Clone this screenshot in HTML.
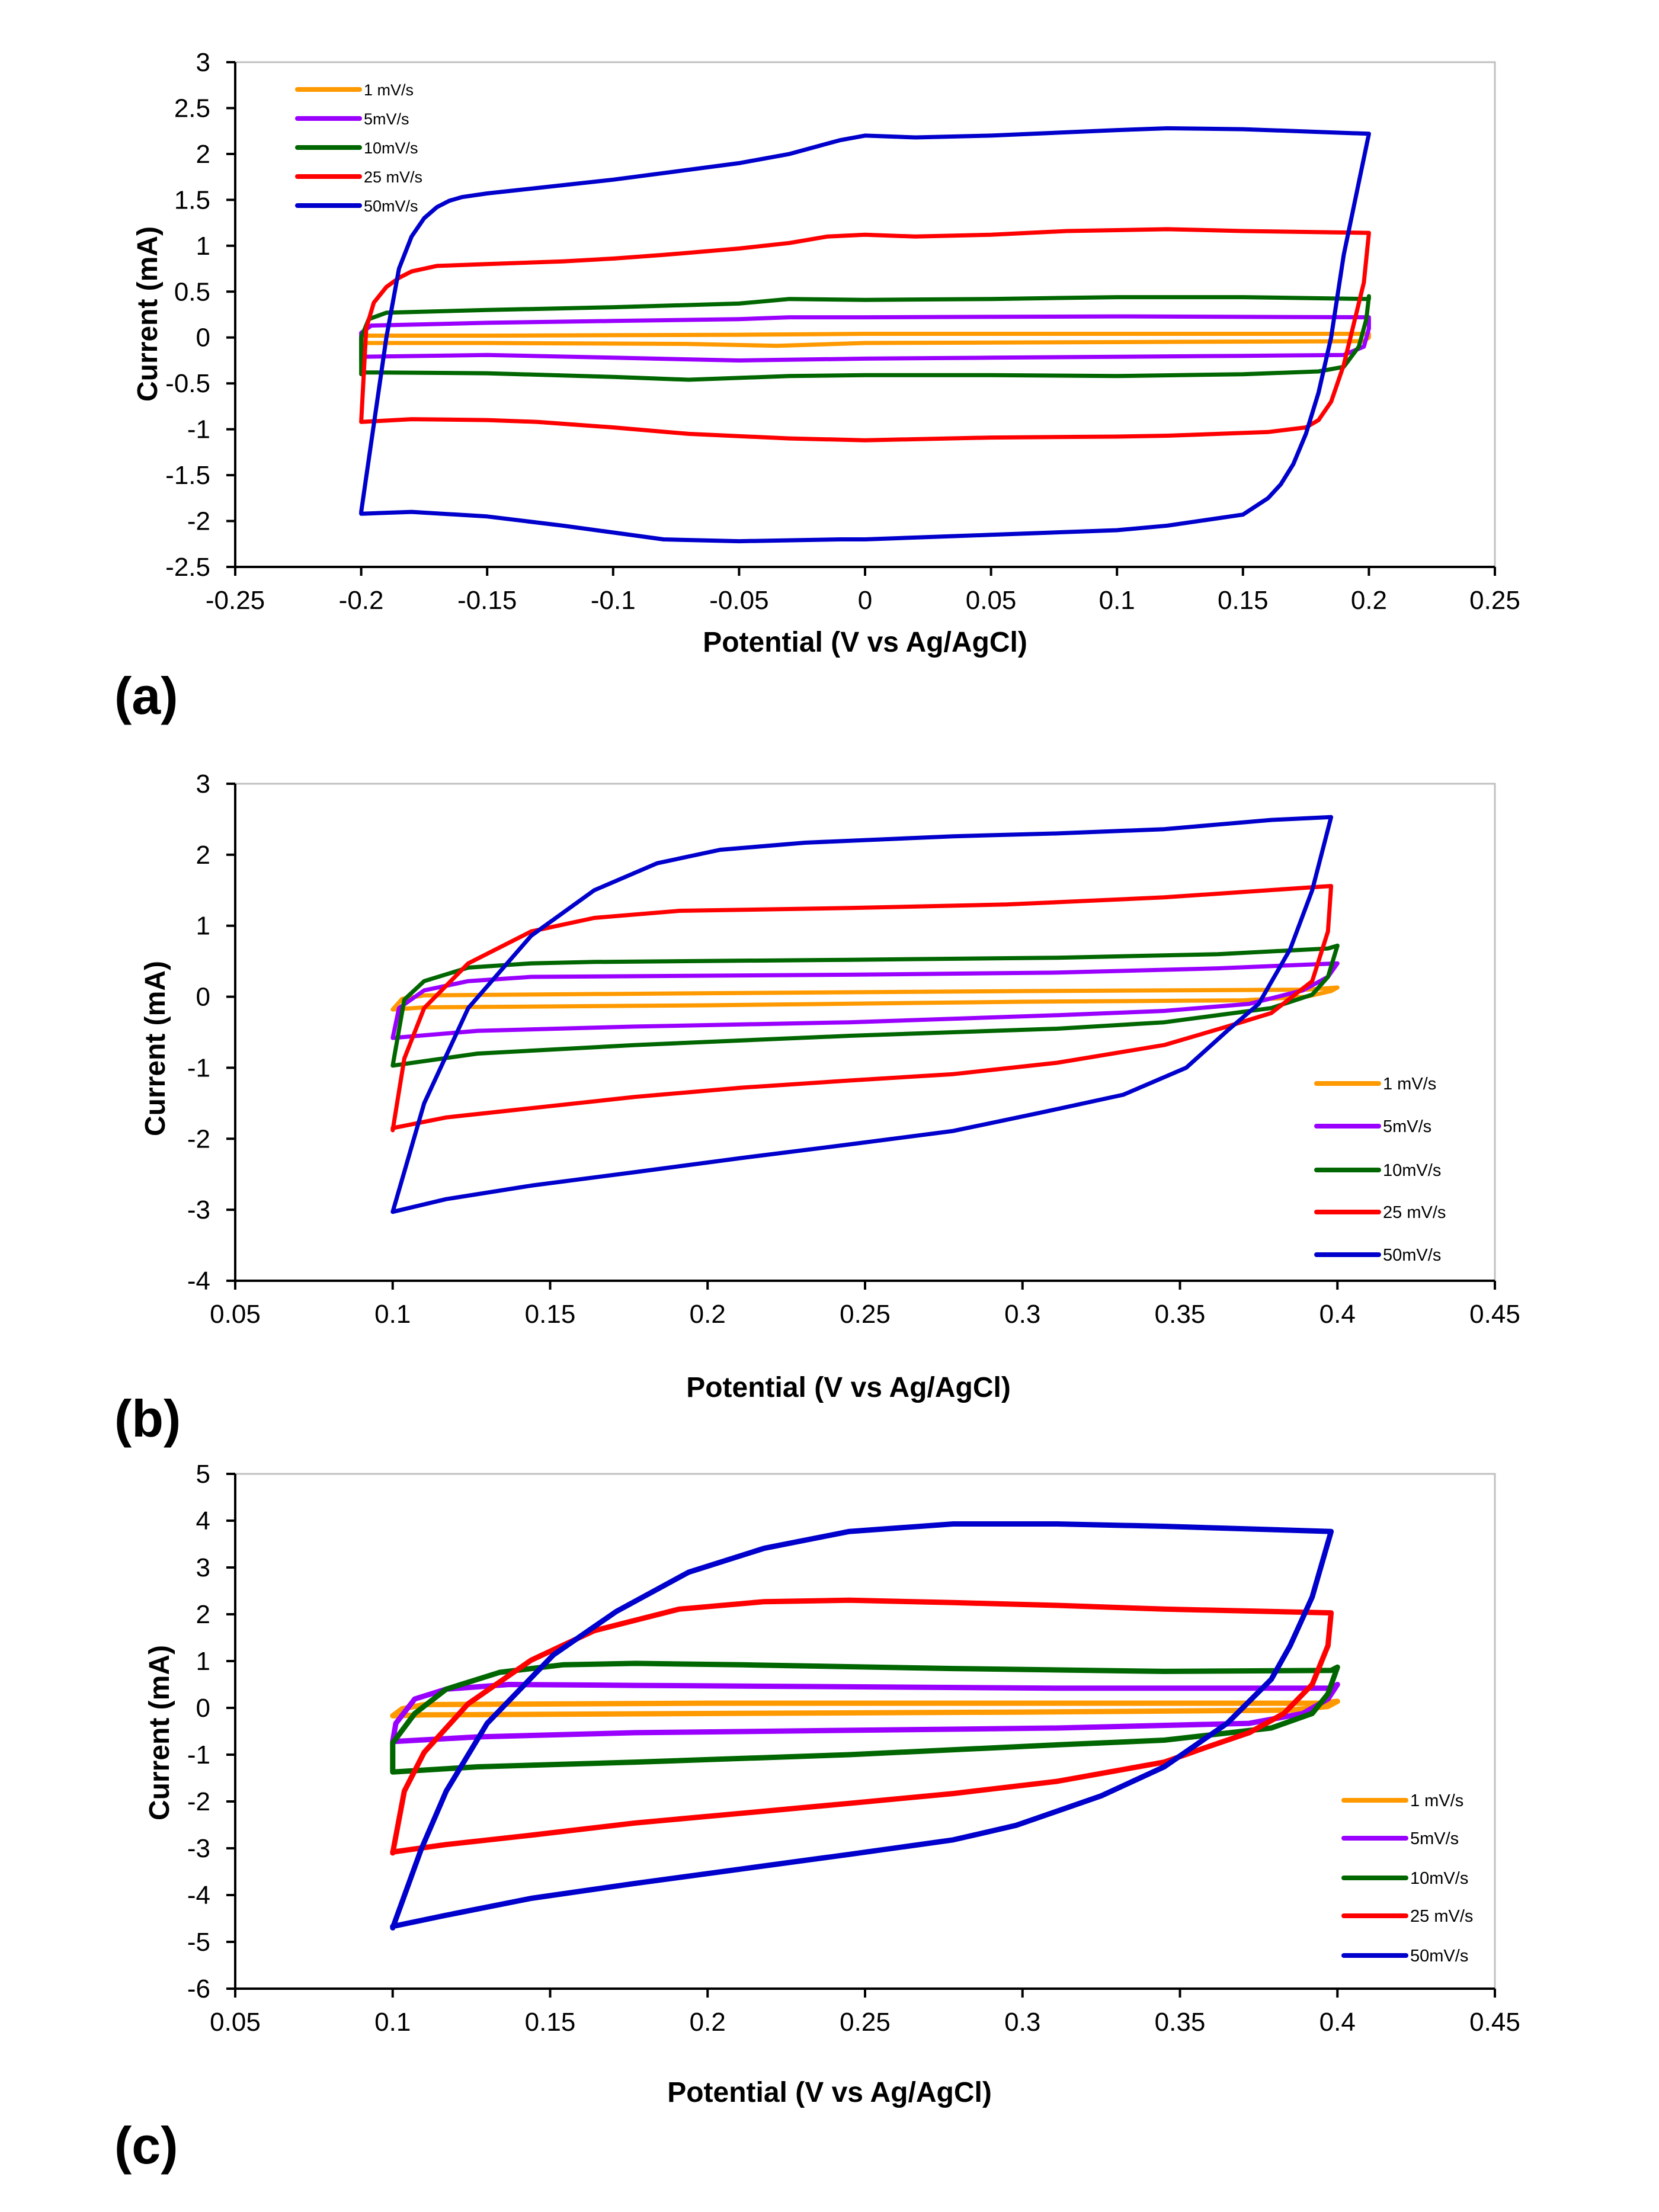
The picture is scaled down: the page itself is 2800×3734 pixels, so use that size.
<!DOCTYPE html>
<html><head><meta charset="utf-8"><style>
html,body{margin:0;padding:0;background:#fff;}
svg{display:block;}
text{font-family:"Liberation Sans",Arial,sans-serif;}
</style></head><body>
<svg id="fig" width="2800" height="3734" viewBox="0 0 2800 3734" xmlns="http://www.w3.org/2000/svg">
<rect width="2800" height="3734" fill="#fff"/>
</svg>
<script>
// ---- Panel (a) data ----
const aX1=[-0.2,-0.198,-0.15,-0.05,0,0.1,0.2,0.2,0.198,0.1,0,-0.035,-0.07,-0.15,-0.2,-0.2];
const aY1=[-0.04,0.02,0.02,0.03,0.04,0.04,0.04,0.0,-0.04,-0.05,-0.06,-0.09,-0.07,-0.06,-0.06,-0.04];
const aX5=[-0.2,-0.2,-0.196,-0.15,-0.1,-0.05,-0.03,0,0.1,0.2,0.2,0.198,0.19,0.15,0.05,0,-0.05,-0.1,-0.15,-0.2,-0.2];
const aY5=[-0.25,0.05,0.13,0.16,0.18,0.2,0.22,0.22,0.23,0.22,0.1,-0.1,-0.19,-0.2,-0.22,-0.23,-0.25,-0.22,-0.19,-0.21,-0.25];
const aX10=[-0.2,-0.2,-0.197,-0.19,-0.15,-0.1,-0.05,-0.03,0,0.05,0.1,0.15,0.2,0.2,0.199,0.196,0.19,0.18,0.15,0.1,0.05,0,-0.03,-0.07,-0.1,-0.15,-0.2,-0.2];
const aY10=[-0.4,0.0,0.2,0.27,0.3,0.33,0.37,0.42,0.41,0.42,0.44,0.44,0.42,0.45,0.2,-0.1,-0.32,-0.37,-0.4,-0.42,-0.41,-0.41,-0.42,-0.46,-0.43,-0.39,-0.38,-0.4];
const aX25=[-0.2,-0.198,-0.195,-0.19,-0.185,-0.18,-0.17,-0.15,-0.12,-0.1,-0.08,-0.05,-0.03,-0.015,0,0.02,0.05,0.08,0.12,0.15,0.2,0.2,0.198,0.19,0.185,0.18,0.175,0.16,0.12,0.1,0.05,0,-0.03,-0.07,-0.1,-0.13,-0.15,-0.18,-0.2];
const aY25=[-0.92,0.1,0.38,0.55,0.65,0.72,0.78,0.8,0.83,0.86,0.9,0.97,1.03,1.1,1.12,1.1,1.12,1.16,1.18,1.16,1.14,1.14,0.6,-0.3,-0.7,-0.9,-0.98,-1.03,-1.07,-1.08,-1.09,-1.12,-1.1,-1.05,-0.98,-0.92,-0.9,-0.89,-0.92];
const aX50=[-0.2,-0.19,-0.185,-0.18,-0.175,-0.17,-0.165,-0.16,-0.15,-0.1,-0.05,-0.03,-0.01,0,0.02,0.05,0.1,0.12,0.15,0.18,0.2,0.2,0.19,0.185,0.18,0.175,0.17,0.165,0.16,0.15,0.12,0.1,0.05,0,-0.01,-0.05,-0.08,-0.12,-0.15,-0.18,-0.2];
const aY50=[-1.9,0.0,0.75,1.1,1.3,1.42,1.49,1.53,1.57,1.72,1.9,2.0,2.15,2.2,2.18,2.2,2.26,2.28,2.27,2.24,2.22,2.22,0.9,0.0,-0.6,-1.05,-1.38,-1.6,-1.75,-1.93,-2.05,-2.1,-2.15,-2.2,-2.2,-2.22,-2.2,-2.05,-1.95,-1.9,-1.92];
const aXTicks=["-0.25","-0.2","-0.15","-0.1","-0.05","0","0.05","0.1","0.15","0.2","0.25"];
const aYTicks=["-2.5","-2","-1.5","-1","-0.5","0","0.5","1","1.5","2","2.5","3"];

// ---- Panel (b) data ----
const bX1=[0.1,0.103,0.11,0.2,0.3,0.39,0.4,0.398,0.39,0.37,0.3,0.2,0.11,0.1];
const bY1=[-0.18,-0.03,0.02,0.05,0.08,0.1,0.13,0.08,0.0,-0.05,-0.07,-0.12,-0.15,-0.18];
const bX5=[0.1,0.102,0.11,0.124,0.144,0.245,0.311,0.362,0.4,0.397,0.389,0.372,0.345,0.311,0.245,0.177,0.127,0.1];
const bY5=[-0.58,-0.16,0.09,0.22,0.28,0.31,0.34,0.4,0.47,0.28,0.09,-0.1,-0.2,-0.26,-0.36,-0.42,-0.48,-0.58];
const bX10=[0.1,0.1037,0.11,0.124,0.144,0.164,0.245,0.311,0.362,0.397,0.4,0.397,0.392,0.379,0.345,0.311,0.245,0.177,0.127,0.1];
const bY10=[-0.97,-0.04,0.22,0.41,0.47,0.49,0.52,0.55,0.6,0.68,0.72,0.28,0.03,-0.16,-0.36,-0.45,-0.55,-0.68,-0.8,-0.97];
const bX25=[0.1,0.1037,0.11,0.124,0.144,0.164,0.191,0.245,0.295,0.345,0.398,0.397,0.392,0.379,0.365,0.345,0.311,0.278,0.245,0.211,0.177,0.144,0.117,0.1];
const bY25=[-1.88,-0.87,-0.16,0.47,0.92,1.11,1.21,1.25,1.3,1.4,1.56,0.92,0.22,-0.23,-0.42,-0.68,-0.93,-1.09,-1.18,-1.28,-1.41,-1.57,-1.7,-1.85];
const bX50=[0.1,0.11,0.124,0.144,0.164,0.184,0.204,0.231,0.278,0.311,0.345,0.379,0.398,0.392,0.385,0.375,0.365,0.352,0.332,0.305,0.278,0.245,0.211,0.177,0.144,0.117,0.1];
const bY50=[-3.03,-1.5,-0.16,0.86,1.5,1.88,2.07,2.17,2.26,2.3,2.36,2.49,2.53,1.5,0.67,-0.1,-0.48,-1.0,-1.38,-1.64,-1.89,-2.08,-2.27,-2.47,-2.66,-2.85,-3.03];
const bXTicks=["0.05","0.1","0.15","0.2","0.25","0.3","0.35","0.4","0.45"];
const bYTicks=["-4","-3","-2","-1","0","1","2","3"];

// ---- Panel (c) data ----
const cX1=[0.1,0.103,0.11,0.2,0.3,0.395,0.4,0.397,0.385,0.3,0.2,0.11,0.1];
const cY1=[-0.17,-0.02,0.07,0.1,0.1,0.1,0.14,0.03,-0.05,-0.09,-0.12,-0.15,-0.17];
const cX5=[0.1,0.101,0.107,0.117,0.137,0.177,0.245,0.311,0.398,0.4,0.397,0.389,0.372,0.311,0.245,0.177,0.127,0.1];
const cY5=[-0.72,-0.33,0.19,0.4,0.5,0.48,0.45,0.42,0.42,0.5,0.19,-0.12,-0.33,-0.43,-0.48,-0.53,-0.62,-0.72];
const cX10=[0.1,0.1,0.107,0.117,0.134,0.154,0.177,0.211,0.278,0.345,0.398,0.4,0.397,0.392,0.379,0.345,0.311,0.245,0.177,0.127,0.1];
const cY10=[-1.35,-0.75,-0.12,0.4,0.76,0.92,0.95,0.92,0.84,0.78,0.8,0.87,0.3,-0.12,-0.43,-0.69,-0.79,-1.0,-1.16,-1.26,-1.37];
const cX25=[0.1,0.1037,0.11,0.124,0.144,0.164,0.191,0.218,0.245,0.278,0.311,0.345,0.398,0.397,0.392,0.383,0.372,0.358,0.345,0.311,0.278,0.245,0.211,0.177,0.144,0.117,0.1];
const cY25=[-3.1,-1.78,-0.95,0.09,1.02,1.65,2.11,2.27,2.3,2.25,2.19,2.11,2.03,1.33,0.5,-0.12,-0.53,-0.85,-1.16,-1.57,-1.83,-2.04,-2.25,-2.46,-2.72,-2.92,-3.08];
const cX50=[0.1,0.109,0.117,0.13,0.151,0.171,0.194,0.218,0.245,0.278,0.311,0.345,0.398,0.392,0.385,0.379,0.365,0.345,0.325,0.298,0.278,0.245,0.211,0.177,0.144,0.117,0.1];
const cY50=[-4.7,-3.03,-1.78,-0.33,1.13,2.06,2.9,3.41,3.77,3.93,3.93,3.88,3.77,2.37,1.33,0.61,-0.33,-1.26,-1.88,-2.51,-2.82,-3.13,-3.44,-3.75,-4.07,-4.43,-4.67];
const cXTicks=["0.05","0.1","0.15","0.2","0.25","0.3","0.35","0.4","0.45"];
const cYTicks=["-6","-5","-4","-3","-2","-1","0","1","2","3","4","5"];

const seriesNames=["1 mV/s","5mV/s","10mV/s","25 mV/s","50mV/s"];
const seriesColors=["#FF9900","#9900FF","#006600","#FF0000","#0000CC"];

const NS="http://www.w3.org/2000/svg";
const svg=document.getElementById('fig');
function mk(tag,attrs,parent){const e=document.createElementNS(NS,tag);for(const k in attrs)e.setAttribute(k,attrs[k]);(parent||svg).appendChild(e);return e;}

function panel(cfg){
  const g=mk('g',{});
  
  
  const L=cfg.left,R=cfg.right,T=cfg.top,B=cfg.bottom;
  const xs=v=>L+(v-cfg.xmin)/(cfg.xmax-cfg.xmin)*(R-L);
  const ys=v=>B-(v-cfg.ymin)/(cfg.ymax-cfg.ymin)*(B-T);
  const fr=mk('path',{d:`M${L},${T}H${R}V${B}`,fill:'none',stroke:'#c0c0c0','stroke-width':3},g);
  
  
  cfg.series.forEach((s,i)=>{
    let d='';
    for(let k=0;k<s[0].length;k++){d+=(k?'L':'M')+xs(s[0][k]).toFixed(1)+','+ys(s[1][k]).toFixed(1);}
    const p=mk('path',{d:d+'Z',fill:'none',stroke:seriesColors[i],'stroke-width':cfg.lw,'stroke-linejoin':'round','stroke-linecap':'round'},g);
    
    
  });
  const ax=mk('path',{d:`M${L},${T}V${B}H${R}`,fill:'none',stroke:'#000','stroke-width':4},g);
  
  
  cfg.xticks.forEach(t=>{
    const x=xs(parseFloat(t));
    const tk=mk('line',{x1:x,x2:x,y1:B,y2:B+15,stroke:'#000','stroke-width':4},g);
    
    
    const tx=mk('text',{x:x,y:B+71,'font-size':44,'text-anchor':'middle'},g);
    tx.textContent=t;
    
    
  });
  cfg.yticks.forEach(t=>{
    const y=ys(parseFloat(t));
    const tk=mk('line',{x1:L-15,x2:L,y1:y,y2:y,stroke:'#000','stroke-width':4},g);
    
    
    const tx=mk('text',{x:L-42,y:y+15,'font-size':44,'text-anchor':'end'},g);
    tx.textContent=t;
    
    
  });
  const xt=mk('text',{x:cfg.xtx,y:cfg.xty,'font-size':48,'font-weight':'bold','text-anchor':'middle'},g);
  xt.textContent='Potential (V vs Ag/AgCl)';
  
  
  const yt=mk('text',{x:0,y:0,'font-size':48,'font-weight':'bold','text-anchor':'middle',transform:`translate(${cfg.ytx},${cfg.yty}) rotate(-90)`},g);
  yt.textContent='Current (mA)';
  
  
  const pl=mk('text',{x:193,y:cfg.ply,'font-size':88,'font-weight':'bold'},g);
  pl.textContent='('+cfg.id+')';
  
  
  cfg.legY.forEach((y,i)=>{
    const ln=mk('line',{x1:cfg.legX,x2:cfg.legX+105,y1:y,y2:y,stroke:seriesColors[i],'stroke-width':8,'stroke-linecap':'round'},g);
    
    
    const lt=mk('text',{x:cfg.legX+112,y:y+10,'font-size':cfg.legF},g);
    lt.textContent=seriesNames[i];
    
    
  });
}

panel({id:'a',left:397,right:2523,top:105,bottom:957,xmin:-0.25,xmax:0.25,ymin:-2.5,ymax:3,lw:7,
  series:[[aX1,aY1],[aX5,aY5],[aX10,aY10],[aX25,aY25],[aX50,aY50]],xticks:aXTicks,yticks:aYTicks,
  xtx:1460,xty:1100,ytx:265,yty:530,ply:1205,legX:502,legY:[151,200,249,298,347],legF:27});
panel({id:'b',left:397,right:2523,top:1323,bottom:2162,xmin:0.05,xmax:0.45,ymin:-4,ymax:3,lw:7,
  series:[[bX1,bY1],[bX5,bY5],[bX10,bY10],[bX25,bY25],[bX50,bY50]],xticks:bXTicks,yticks:bYTicks,
  xtx:1432,xty:2358,ytx:278,yty:1770,ply:2425,legX:2222,legY:[1829,1901,1975,2046,2118],legF:29});
panel({id:'c',left:397,right:2523,top:2488,bottom:3357,xmin:0.05,xmax:0.45,ymin:-6,ymax:5,lw:9,
  series:[[cX1,cY1],[cX5,cY5],[cX10,cY10],[cX25,cY25],[cX50,cY50]],xticks:cXTicks,yticks:cYTicks,
  xtx:1400,xty:3548,ytx:285,yty:2925,ply:3652,legX:2268,legY:[3039,3103,3170,3234,3301],legF:29});
</script>
</body></html>
